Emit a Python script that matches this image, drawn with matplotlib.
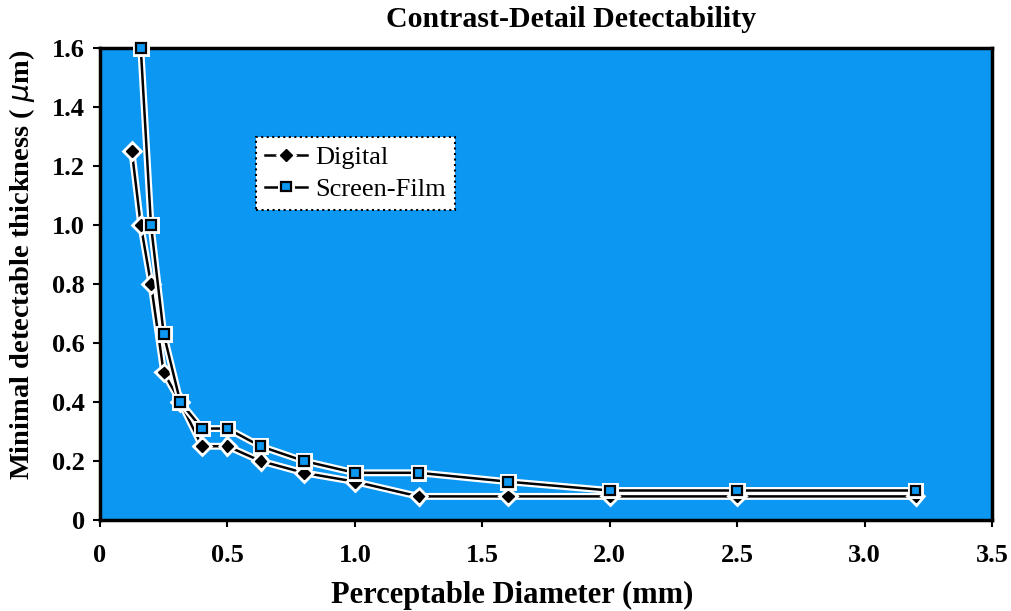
import matplotlib
matplotlib.use("Agg")
import matplotlib.pyplot as plt
import matplotlib.patheffects as pe

diameter_digital = [0.125, 0.16, 0.2, 0.25, 0.315, 0.4, 0.5, 0.63, 0.8, 1.0, 1.25, 1.6, 2.0, 2.5, 3.2]
thick_digital = [1.25, 1.0, 0.8, 0.5, 0.4, 0.25, 0.25, 0.2, 0.16, 0.13, 0.08, 0.08, 0.08, 0.08, 0.08]
diameter_film = [0.16, 0.2, 0.25, 0.315, 0.4, 0.5, 0.63, 0.8, 1.0, 1.25, 1.6, 2.0, 2.5, 3.2]
thick_film = [1.6, 1.0, 0.63, 0.4, 0.31, 0.31, 0.25, 0.2, 0.16, 0.16, 0.13, 0.1, 0.1, 0.1]
xticks = [0, 0.5, 1.0, 1.5, 2.0, 2.5, 3.0, 3.5]
xtick_labels = ["0", "0.5", "1.0", "1.5", "2.0", "2.5", "3.0", "3.5"]
yticks = [0, 0.2, 0.4, 0.6, 0.8, 1.0, 1.2, 1.4, 1.6]
ytick_labels = ["0", "0.2", "0.4", "0.6", "0.8", "1.0", "1.2", "1.4", "1.6"]

plt.rcParams['font.family'] = ['Liberation Serif', 'DejaVu Serif']

fig = plt.figure(figsize=(10.11, 6.11), dpi=100)
ax = fig.add_axes([100/1011, (611-520)/611, (992-100)/1011, (520-48)/611])
ax.set_facecolor('#0c98f2')

halo = [pe.Stroke(linewidth=5, foreground='white'), pe.Normal()]
ax.plot(diameter_digital, thick_digital, color='black', lw=1.8, marker='D', ms=6,
        mfc='black', mec='black', label='Digital', path_effects=halo, clip_on=False, zorder=3)
ax.plot(diameter_film, thick_film, color='black', lw=1.8, marker='s', ms=7,
        mfc='#0c98f2', mec='black', mew=1.6, label='Screen-Film', path_effects=halo,
        clip_on=False, zorder=4)

ax.set_xlim(0, 3.5)
ax.set_ylim(0, 1.6)
ax.set_xticks(xticks)
ax.set_xticklabels(xtick_labels)
ax.set_yticks(yticks)
ax.set_yticklabels(ytick_labels)
ax.tick_params(axis='both', direction='out', length=5, width=1.5, labelsize=19, pad=6)
ax.tick_params(axis='x', pad=12)
for lab in ax.get_xticklabels() + ax.get_yticklabels():
    lab.set_fontweight('bold')
for sp in ax.spines.values():
    sp.set_linewidth(2.5)
    sp.set_color('black')

ax.set_xlabel('Perceptable Diameter (mm)', fontsize=22, fontweight='bold')
ax.xaxis.set_label_coords(0.462, -0.13)
ax.set_ylabel(r'Minimal detectable thickness ( $\mu$m)', fontsize=20.5, fontweight='bold')
ax.yaxis.set_label_coords(-0.071, 0.54)
fig.text(0.565, 0.968, 'Contrast-Detail Detectability', ha='center', va='center',
         fontsize=21.5, fontweight='bold')

leg = ax.legend(loc='upper left', bbox_to_anchor=(0.16, 0.84), fontsize=19, frameon=True,
                fancybox=False, borderpad=0.35, handlelength=1.6, handletextpad=0.3,
                labelspacing=0.3)
leg.get_frame().set_edgecolor('black')
leg.get_frame().set_linestyle(':')
leg.get_frame().set_linewidth(1.5)
leg.get_frame().set_alpha(1)

fig.savefig('out.png', dpi=100)
